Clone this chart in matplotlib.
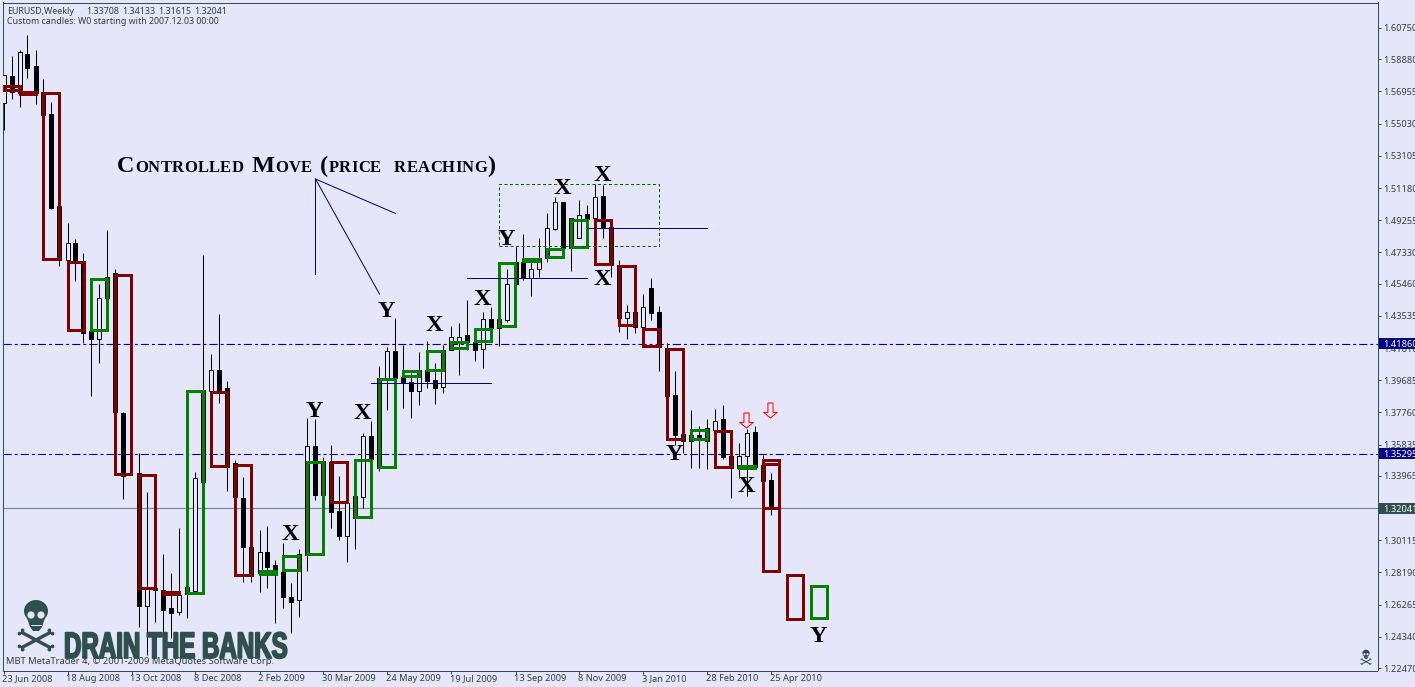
import numpy as np
import matplotlib
matplotlib.use("Agg")
import matplotlib.pyplot as plt
from matplotlib.patches import Rectangle, Circle, Ellipse, Polygon
from matplotlib.path import Path
from matplotlib.transforms import Affine2D, blended_transform_factory
import matplotlib.patheffects as pe

BG = "#E6E6FA"
FRAME = "#2F4F4F"
NAVY = "#000080"
MAROON = "#800000"
GREEN = "#008000"
LABEL = "#2f3f3f"

# weekly candles, one per week, index 0 = 23 Jun 2008 (nan = week not visible)
opens = [1.5626, 1.5788, 1.5686, 1.5919, 1.5847, 1.5692, 1.5560, 1.5010, 1.4687, 1.4789,
         1.4669, 1.4263, 1.4215, 1.4586, 1.4609, 1.3772, np.nan, 1.3413, 1.2618, 1.2714,
         1.2714, 1.2606, 1.2582, 1.2732, 1.2708, 1.3910, 1.3904, 1.4029, 1.3922, 1.3473,
         1.3264, 1.2971, 1.2815, 1.2941, 1.2863, 1.2821, 1.2672, 1.2654, 1.2923, 1.3575,
         1.3485, 1.3479, 1.3186, 1.3037, 1.3276, 1.3270, 1.3635, 1.3982, 1.3982, 1.4143,
         1.3988, 1.3958, 1.3904, 1.4029, 1.3970, 1.3928, 1.4149, 1.4197, 1.4239, 1.4197,
         1.4155, 1.4334, 1.4334, 1.4328, 1.4675, 1.4675, 1.4580, 1.4633, 1.4699, 1.4873,
         1.5034, 1.4759, 1.4819, 1.4962, 1.4938, 1.5070, 1.4885, 1.4657, 1.4340, 1.4376,
         1.4287, 1.4520, 1.4376, 1.4161, 1.3880, 1.3647, 1.3641, 1.3641, 1.3605, 1.3671,
         1.3736, 1.3515, 1.3443, 1.3515, 1.3659, 1.3461, 1.33708]
highs = [1.5794, 1.5907, 1.5943, 1.6033, 1.5943, 1.5770, 1.5632, 1.5010, 1.4908, 1.4813,
         1.4729, 1.4263, 1.4544, 1.4867, 1.4633, 1.3778, np.nan, 1.3533, 1.3300, 1.2726,
         1.2929, 1.2815, 1.3085, 1.2732, 1.3419, 1.4717, 1.4125, 1.4364, 1.3964, 1.3491,
         1.3390, 1.2971, 1.3073, 1.3097, 1.2893, 1.2995, 1.2756, 1.2959, 1.3742, 1.3736,
         1.3509, 1.3581, 1.3395, 1.3234, 1.3276, 1.3653, 1.3724, 1.4053, 1.4167, 1.4340,
         1.4179, 1.4011, 1.4137, 1.4203, 1.4071, 1.4179, 1.4293, 1.4310, 1.4448, 1.4239,
         1.4376, 1.4406, 1.4334, 1.4633, 1.4765, 1.4843, 1.4675, 1.4819, 1.4968, 1.5064,
         1.5034, 1.4938, 1.5046, 1.5016, 1.5142, 1.5136, 1.4885, 1.4687, 1.4418, 1.4376,
         1.4484, 1.4580, 1.4412, 1.4191, 1.4023, 1.3647, 1.3790, 1.3695, 1.3736, 1.3796,
         1.3820, 1.3515, 1.3593, 1.3677, 1.3695, 1.3521, 1.34133]
lows = [1.5465, 1.5650, 1.5602, 1.5776, 1.5620, 1.5554, 1.4992, 1.4651, 1.4687, 1.4562,
        1.4191, 1.3874, 1.4071, 1.4460, 1.3778, 1.3258, np.nan, 1.2493, 1.2325, 1.2522,
        1.2385, 1.2427, 1.2564, 1.2546, 1.2708, 1.3360, 1.3904, 1.3832, 1.3306, 1.3270,
        1.2762, 1.2762, 1.2702, 1.2726, 1.2516, 1.2606, 1.2457, 1.2552, 1.2827, 1.3252,
        1.3282, 1.3085, 1.3013, 1.2881, 1.2959, 1.3204, 1.3497, 1.3425, 1.3790, 1.3982,
        1.3802, 1.3742, 1.3820, 1.3922, 1.3826, 1.3892, 1.4149, 1.4000, 1.4149, 1.4083,
        1.4041, 1.4239, 1.4173, 1.4316, 1.4544, 1.4568, 1.4472, 1.4586, 1.4675, 1.4867,
        1.4747, 1.4621, 1.4819, 1.4932, 1.4938, 1.4819, 1.4586, 1.4257, 1.4215, 1.4251,
        1.4287, 1.4328, 1.4023, 1.3874, 1.3581, 1.3533, 1.3443, 1.3443, 1.3437, 1.3671,
        1.3497, 1.3264, 1.3384, 1.3276, 1.3449, 1.3366, 1.31615]
closes = [1.5794, 1.5692, 1.5931, 1.5835, 1.5686, 1.5554, 1.4998, 1.4687, 1.4789, 1.4669,
          1.4251, 1.4215, 1.4460, 1.4460, 1.3778, 1.3395, np.nan, 1.2618, 1.2726, 1.2726,
          1.2594, 1.2576, 1.2684, 1.2690, 1.3384, 1.3360, 1.4029, 1.3904, 1.3449, 1.3270,
          1.2971, 1.2798, 1.2941, 1.2851, 1.2827, 1.2672, 1.2642, 1.2929, 1.3575, 1.3282,
          1.3282, 1.3180, 1.3037, 1.3234, 1.3144, 1.3635, 1.3497, 1.3443, 1.4143, 1.3982,
          1.3952, 1.3904, 1.4029, 1.3964, 1.3922, 1.4149, 1.4227, 1.4227, 1.4197, 1.4149,
          1.4334, 1.4281, 1.4281, 1.4544, 1.4544, 1.4580, 1.4633, 1.4699, 1.4879, 1.5034,
          1.4759, 1.4938, 1.4956, 1.4932, 1.5064, 1.4879, 1.4657, 1.4340, 1.4376, 1.4287,
          1.4406, 1.4370, 1.4167, 1.3874, 1.3641, 1.3605, 1.3605, 1.3617, 1.3683, 1.3724,
          1.3509, 1.3443, 1.3515, 1.3653, 1.3449, 1.3366, 1.32041]

# custom three week candles
box_start = [0, 2, 5, 8, 11, 14, 17, 20, 23, 26, 29, 32, 35, 38, 41, 44, 47, 50, 53, 56,
             59, 62, 65, 68, 71, 74, 77, 80, 83, 86, 89, 92, 95, 95, 98, 101]
box_open = [1.5728, 1.5692, 1.5686, 1.4675, 1.4272, 1.4600, 1.3401, 1.2705, 1.2696, 1.3898,
            1.3464, 1.2809, 1.2833, 1.2929, 1.3479, 1.3153, 1.3449, 1.3991, 1.4032, 1.4161,
            1.4203, 1.4290, 1.4684, 1.4705, 1.4765, 1.4926, 1.4654, 1.4275, 1.4155, 1.3617,
            1.3665, 1.3446, 1.3467, 1.3491, 1.2804, 1.2546]
box_close = [1.5704, 1.5683, 1.4693, 1.4272, 1.4577, 1.3410, 1.2726, 1.2693, 1.3904, 1.3458,
             1.2806, 1.2827, 1.2920, 1.3479, 1.3240, 1.3491, 1.3976, 1.4023, 1.4146, 1.4197,
             1.4275, 1.4672, 1.4693, 1.4753, 1.4926, 1.4663, 1.4296, 1.4173, 1.3617, 1.3671,
             1.3449, 1.3455, 1.3204, 1.2827, 1.2540, 1.2741]

level_prices = [1.41860, 1.35295]
last_price = 1.32041
level_labels = ["1.41860", "1.35295"]
last_label = "1.32041"

y_ticks = [1.60750, 1.58880, 1.56955, 1.55030, 1.53105, 1.51180, 1.49255, 1.47330, 1.45460, 1.43535,
           1.41610, 1.39685, 1.37760, 1.35835, 1.33965, 1.32040, 1.30115, 1.28190, 1.26265, 1.24340, 1.22470]
y_tick_labels = ["1.60750", "1.58880", "1.56955", "1.55030", "1.53105", "1.51180", "1.49255", "1.47330",
                 "1.45460", "1.43535", "1.41610", "1.39685", "1.37760", "1.35835", "1.33965", "1.32040",
                 "1.30115", "1.28190", "1.26265", "1.24340", "1.22470"]
x_ticks = [0, 8, 16, 24, 32, 40, 48, 56, 64, 72, 80, 88, 96]
x_tick_labels = ["23 Jun 2008", "18 Aug 2008", "13 Oct 2008", "8 Dec 2008", "2 Feb 2009", "30 Mar 2009",
                 "24 May 2009", "19 Jul 2009", "13 Sep 2009", "8 Nov 2009", "3 Jan 2010", "28 Feb 2010",
                 "25 Apr 2010"]

# wave letters
wave_text = ["X", "Y", "X", "Y", "X", "X", "Y", "X", "X", "X", "Y", "X", "Y"]
wave_x = [35.9, 38.8, 44.9, 47.8, 53.9, 59.9, 62.8, 69.9, 74.9, 74.9, 83.8, 92.9, 101.85]
wave_y = [1.3013, 1.3748, 1.3736, 1.4346, 1.4263, 1.4418, 1.4777, 1.5082, 1.5160, 1.4538, 1.3491, 1.3300, 1.2403]

# drawn trend lines: start week, end week, start price, end price
line_x0 = [39, 39, 39, 46, 58, 73]
line_x1 = [49, 39, 47, 61, 73, 88]
line_y0 = [1.5172, 1.5172, 1.5172, 1.3950, 1.4578, 1.4877]
line_y1 = [1.4966, 1.4604, 1.4484, 1.3950, 1.4578, 1.4877]

zone_x = [62, 82]
zone_y = [1.4769, 1.5140]
arrow_x = [92.8, 95.8]
arrow_y = [1.3729, 1.3789]

header_text = ["EURUSD,Weekly", "1.33708", "1.34133", "1.31615", "1.32041"]
header_x = [7, 86, 122, 158, 194]

W, H = 1415, 687
PX = 72 / 100  # one pixel in points

fig = plt.figure(figsize=(W / 100, H / 100), dpi=100, facecolor=BG)
left, right, top, bottom = 2.5, 1377.5, 2.5, 670.5
ax = fig.add_axes([left / W, 1 - bottom / H, (right - left) / W, (bottom - top) / H], facecolor=BG)
ax.set_xlim((left - 3.5) / 8, (right - 3.5) / 8)
ax.set_ylim(1.6075 - 642.5 * 0.000598, 1.6075 + 25.5 * 0.000598)

for s in ax.spines.values():
    s.set_color(FRAME)
    s.set_linewidth(PX)

tick_font = {"family": "Noto Sans", "size": 6.6, "color": LABEL}
ax.yaxis.tick_right()
ax.set_yticks(y_ticks)
ax.set_yticklabels(y_tick_labels, **tick_font)
ax.set_xticks(x_ticks)
ax.set_xticklabels(x_tick_labels, ha="left", **tick_font)
ax.tick_params(axis="y", length=3 * PX, width=PX, color=FRAME, pad=2.2)
ax.tick_params(axis="x", length=3 * PX, width=PX, color=FRAME, pad=0.6)
for lab in ax.get_xticklabels():
    lab.set_transform(lab.get_transform() + Affine2D().translate(-1.5, 0))

# price levels
for p in level_prices:
    ax.axhline(p, color=NAVY, lw=PX * 1.1, dashes=(7.5, 2.7, 2.7, 2.7), zorder=2)
ax.axhline(last_price, color="#778899", lw=PX * 1.2, zorder=2)

# weekly candles
weeks = np.arange(len(opens))
ax.vlines(weeks, lows, highs, color="black", lw=PX, zorder=3)
for i, (o, c) in enumerate(zip(opens, closes)):
    if np.isnan(o):
        continue
    up = c > o
    ax.add_patch(Rectangle((i - 0.25, min(o, c)), 0.5, abs(c - o), facecolor=BG if up else "black",
                           edgecolor="black", lw=PX, zorder=4))

# custom candles
for s, o, c in zip(box_start, box_open, box_close):
    ax.add_patch(Rectangle((s, min(o, c)), 2, abs(c - o), fill=False, edgecolor=GREEN if c > o else MAROON,
                           lw=3 * PX, joinstyle="miter", zorder=5, clip_on=True))

# objects drawn on the chart
for x0, x1, y0, y1 in zip(line_x0, line_x1, line_y0, line_y1):
    ax.plot([x0, x1], [y0, y1], color=NAVY, lw=PX, zorder=6)
ax.add_patch(Rectangle((zone_x[0], zone_y[0]), zone_x[1] - zone_x[0], zone_y[1] - zone_y[0], fill=False,
                       edgecolor="#006400", lw=PX, linestyle=(0, (3, 2.5)), zorder=6))

for t, x, y in zip(wave_text, wave_x, wave_y):
    ax.text(x, y, t, family="Liberation Serif", weight="bold", size=17.5, color="black",
            ha="center", va="baseline", zorder=7)

arrow_path = Path([(-0.34, 1), (0.34, 1), (0.34, -0.25), (0.91, -0.25), (0, -1), (-0.91, -0.25),
                   (-0.34, -0.25), (-0.34, 1)], closed=True)
ax.plot(arrow_x, arrow_y, ls="none", marker=arrow_path, ms=15 * PX, mfc="none", mec="red", mew=PX, zorder=7)

# price tags on the right axis
tag_tf = blended_transform_factory(fig.transFigure, ax.transData)
dy = 5.5 * 0.000598
for p, lab, col in zip(level_prices + [last_price], level_labels + [last_label], [NAVY, NAVY, FRAME]):
    ax.add_patch(Rectangle((1379 / W, p - dy), 36 / W, 2 * dy, transform=tag_tf, facecolor=col,
                           edgecolor="none", clip_on=False, zorder=10))
    ax.text(1383 / W, p, lab, transform=tag_tf, family="Noto Sans", size=6.6, color="white",
            va="center_baseline", ha="left", clip_on=False, zorder=11)

# pixel position texts and logo
px = Affine2D().scale(1, -1).translate(0, H)
txt = {"transform": px, "family": "Noto Sans", "size": 6.4, "color": LABEL, "va": "center_baseline", "zorder": 12}
for t, x in zip(header_text, header_x):
    ax.text(x, 10.5, t, **txt)
ax.text(7, 20.5, "Custom candles: W0 starting with 2007.12.03 00:00", **txt)


def small_caps(word, x0, base):
    r = fig.canvas.get_renderer()
    x = x0
    for ch in word:
        big = ch.isupper() or ch in "()"
        t = ax.text(x, base, ch.upper(), transform=px, family="Liberation Serif", weight="bold",
                    size=17.5 if big else 12, color="#050510", va="baseline", ha="left", zorder=7)
        x += t.get_window_extent(r).width + 0.3


title_words = ["Controlled", "Move", "(price", "reaching)"]
title_x = [117, 252, 320, 394]
for w, x in zip(title_words, title_x):
    small_caps(w, x, 172)


class Squeeze(pe.AbstractPathEffect):
    # condensed heavy lettering, no narrow font is installed
    def __init__(self, x0, sx, edge):
        super().__init__()
        self.x0, self.sx, self.edge = x0, sx, edge

    def draw_path(self, renderer, gc, tpath, affine, rgbFace=None):
        gc0 = renderer.new_gc()
        gc0.copy_properties(gc)
        gc0.set_linewidth(self.edge)
        gc0.set_foreground(rgbFace)
        a = affine + Affine2D().translate(-self.x0, 0).scale(self.sx, 1).translate(self.x0, 0)
        renderer.draw_path(gc0, tpath, a, rgbFace)
        gc0.restore()


ax.text(64, 658, "DRAIN THE BANKS", transform=px, family="Liberation Sans", weight="bold",
        size=26.5, color=FRAME, va="baseline", ha="left", zorder=8,
        path_effects=[Squeeze(64, 0.655, 1.3)])
ax.text(6, 661, "MBT MetaTrader 4, © 2001-2009 MetaQuotes Software Corp.", **{**txt, "size": 6.75, "zorder": 9})


def skull(cx, cy, s):
    # cx, cy = cranium centre in pixels, s = scale
    def pt(dx, dy):
        return cx + dx * s, cy + dy * s
    kw = {"transform": px, "clip_on": False, "zorder": 8}
    ax.add_patch(Ellipse(pt(0, 0), 24 * s, 22 * s, facecolor=FRAME, edgecolor="none", **kw))
    ax.add_patch(Polygon([pt(-10, 4), pt(10, 4), pt(6, 16), pt(3, 20), pt(-3, 20), pt(-6, 16)],
                         facecolor=FRAME, edgecolor="none", **kw))
    for d in (-5, 5):
        ax.add_patch(Circle(pt(d, 4), 3.6 * s, facecolor=BG, edgecolor="none", **kw))
    ax.plot([pt(-5, 15.5)[0], pt(5, 15.5)[0]], [pt(-5, 14)[1], pt(5, 14)[1]], color=BG, lw=1.0 * s * PX,
            transform=px, zorder=9, clip_on=False)
    for sx in (-1, 1):
        x0, y0 = pt(sx * 15, 21)
        x1, y1 = pt(-sx * 15, 37)
        ax.plot([x0, x1], [y0, y1], color=FRAME, lw=3.4 * s * PX, transform=px, zorder=8, clip_on=False,
                solid_capstyle="butt")
        for (xa, ya) in ((x0, y0), (x1, y1)):
            for off in (-1.6, 1.6):
                ax.add_patch(Circle((xa + off * s, ya + sx * off * s * 1.0), 1.9 * s, facecolor=FRAME,
                                    edgecolor="none", **kw))


skull(36, 611, 1.0)
skull(1366, 653, 0.3)

fig.savefig("out.png", dpi=100, facecolor=BG)
